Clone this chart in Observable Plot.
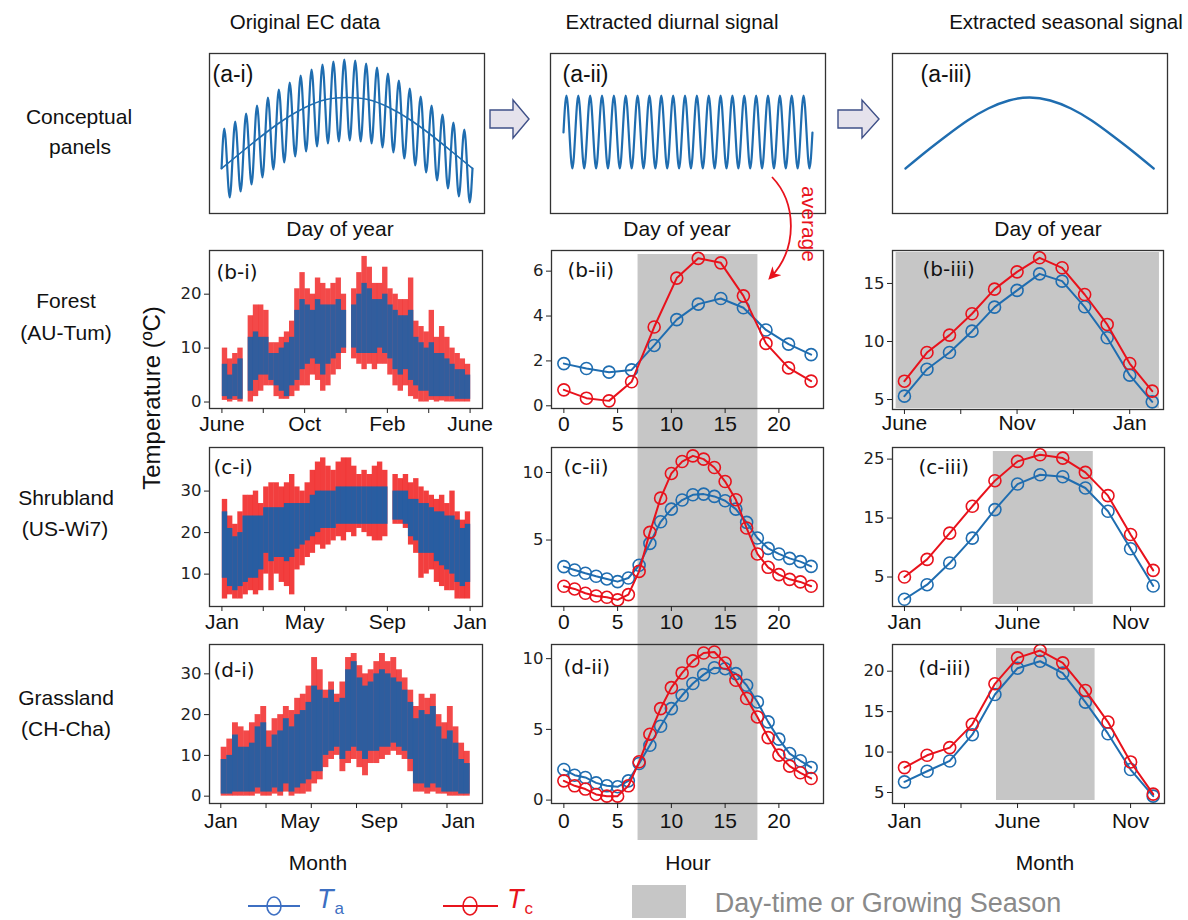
<!DOCTYPE html>
<html><head><meta charset="utf-8">
<script src="https://cdn.jsdelivr.net/npm/d3@7"></script>
<script src="https://cdn.jsdelivr.net/npm/@observablehq/plot@0.6"></script>
<style>
body{margin:0;background:#fff;}
#root{position:relative;width:1188px;height:920px;overflow:hidden;background:#fff;font-family:"Liberation Sans",Arial,sans-serif;color:#111;}
.lbl{position:absolute;white-space:nowrap;transform:translate(-50%,-50%);line-height:1;}
</style></head><body><div id="root"></div>
<script>
// ---------------- DATA ----------------
// Conceptual panels (values in panel units)
const conceptPeaks   = [85, 92, 100, 108, 116, 124, 131, 138, 144, 149, 152, 154, 153, 150, 146, 140, 133, 125, 117, 108, 99, 91, 84];
const conceptTroughs = [16, 22, 29, 36, 44, 51, 57, 62, 67, 70, 72, 73, 72, 70, 66, 61, 55, 48, 41, 33, 25, 17, 11];
const conceptStartEnd = [45, 45];
const conceptMeanX = [0.5, 4.3, 8.2, 12, 15.8, 19.7, 23.5, 27.3, 31.2, 35, 38.8, 42.7, 46.5];
const conceptMeanY = [45, 62, 79, 94, 106, 114, 116, 114, 106, 94, 79, 62, 45];
const diurnalConceptPeaks   = [118,118,118,118,118,118,118,118,118,118,118,118,118,118,118,118,118,118,118,118,118];
const diurnalConceptTroughs = [45,45,45,45,45,45,45,45,45,45,45,45,45,45,45,45,45,45,45,45,45];
const diurnalConceptStartEnd = [81, 81];
const seasonalConceptY = [45, 62, 78, 93, 105, 113, 116, 113, 105, 93, 78, 62, 45];

// Scatter panels: weekly envelopes (°C) of Tc (red) and Ta (blue); null = data gap
const forestTcLo = [0.3,0,0.3,0,null,0,1,2,3,3,1,0.5,0.5,1,2,3,3,5,4,2,3,5,6,9,null,8,7,6,7,6,7,7,5,3,2,3,1,0.5,0,0,0.3,0,0.2,0,0,0,0,0];
const forestTcHi = [10,8,9,10,null,16,18,18,17,11,11,12,13,15,21,24,21,20,23,22,21,22,23,20,null,21,24,27,25,22,22,25,21,20,19,19,23,15,14,13,17,12,14,12,10,9,8,7];
const forestTaLo = [1,0.5,1,0.5,null,2,4,5,5,4,3,2,1,3,4,6,7,8,7,5,7,8,9,10,null,10,9,9,9,9,10,9,8,6,5,6,4,3,2,2,1,1,1,1,1,0.5,0.5,0.5];
const forestTaHi = [7,5,7,8,null,12,13,12,12,9,9,10,11,12,17,19,18,17,19,18,18,18,19,17,null,18,20,22,21,19,19,20,18,17,16,16,17,12,11,10,11,9,9,8,7,6,6,5];

const shrubTcLo = [4,5,4,4,5,6,5,6,10,6,10,8,7,5,11,12,14,15,17,16,17,18,19,18,20,19,21,20,19,18,18,19,null,22,22,21,17,15,9,10,11,8,7,6,6,4,4,4];
const shrubTcHi = [28,24,22,25,29,29,30,27,31,32,32,31,32,34,31,30,32,35,37,38,36,35,37,38,38,36,34,35,34,36,37,35,null,34,33,34,32,33,31,30,29,28,29,27,30,25,23,25];
const shrubTaLo = [9,7,6,7,8,9,9,11,15,13,14,14,13,14,16,17,18,19,20,21,21,21,22,22,22,22,22,22,22,22,22,22,null,23,23,22,19,18,15,15,15,13,12,11,10,8,7,8];
const shrubTaHi = [25,21,19,20,24,24,24,24,26,26,26,26,27,27,27,27,27,29,30,30,30,30,31,31,31,31,31,31,31,31,31,31,null,30,30,30,28,28,27,27,26,25,25,24,24,23,21,22];

const grassTcLo = [0,0,0,0,0,0,0.5,0,0,0.5,0,1,0,0.5,0.5,1,3,4,7,9,10,6,8,9,7,5,8,8,9,10,11,10,9,6,1,1,0.5,1,0.5,0.5,0,0,0,0];
const grassTcHi = [12,14,18,17,16,18,20,22,16,19,20,22,21,24,25,27,34,31,26,28,25,28,34,35,32,30,31,33,35,33,34,31,29,26,22,25,24,25,20,18,22,17,13,11];
const grassTaLo = [0.5,0.5,1,1,1,1,2,1,1,2,1,3,1,2,3,4,6,6,10,11,12,9,11,12,11,9,11,11,12,12,13,12,11,9,3,3,2,3,2,1,1,1,0.5,0.5];
const grassTaHi = [9,10,15,12,12,13,17,18,12,15,16,19,17,20,21,23,27,26,24,26,23,24,31,33,29,27,28,30,31,30,29,28,26,23,19,21,20,22,17,14,16,13,9,8];

// Diurnal signal (°C)
const hoursForest = [0, 2.1, 4.2, 6.3, 8.4, 10.5, 12.5, 14.6, 16.7, 18.8, 20.9, 23];
const forestDiurnalTa = [1.88,1.66,1.50,1.60,2.69,3.84,4.53,4.78,4.37,3.38,2.75,2.28];
const forestDiurnalTc = [0.71,0.34,0.22,1.07,3.51,5.69,6.57,6.37,4.90,2.78,1.69,1.10];
const hours = [0,1,2,3,4,5,6,7,8,9,10,11,12,13,14,15,16,17,18,19,20,21,22,23];
const shrubDiurnalTa = [3.03,2.78,2.54,2.32,2.12,1.92,2.19,3.13,4.75,6.35,7.29,7.96,8.35,8.40,8.23,7.91,7.29,6.31,5.15,4.38,3.97,3.64,3.40,3.05];
const shrubDiurnalTc = [1.58,1.38,1.06,0.86,0.76,0.57,0.96,2.68,5.57,8.10,9.93,10.81,11.23,10.99,10.37,9.33,7.98,5.89,3.97,2.98,2.44,2.09,1.90,1.58];
const grassDiurnalTa = [2.16,1.76,1.60,1.22,1.01,0.94,1.36,2.59,3.88,5.22,6.47,7.41,8.24,8.87,9.36,9.29,8.94,8.12,6.94,5.53,4.31,3.29,2.78,2.31];
const grassDiurnalTc = [1.36,1.01,0.78,0.40,0.28,0.28,1.01,2.71,4.66,6.47,7.95,8.99,9.84,10.40,10.47,9.69,8.47,7.18,5.88,4.42,3.18,2.40,1.93,1.53];
const daytimeHours = [6.9, 18.05];

// Seasonal signal (°C), monthly index 0..11
const monthIndex = [0,1,2,3,4,5,6,7,8,9,10,11];
const forestSeasonTa = [5.29,7.61,9.05,10.89,12.96,14.40,15.83,15.20,12.99,10.32,7.10,4.80];
const forestSeasonTc = [6.58,9.05,10.55,12.39,14.51,16.00,17.21,16.35,14.05,11.47,8.10,5.72];
const shrubSeasonTa = [1.23,3.70,7.37,11.59,16.44,20.77,22.35,22.01,20.10,16.15,9.79,3.48];
const shrubSeasonTc = [5.00,7.99,12.44,17.00,21.34,24.61,25.73,25.17,22.75,18.80,12.21,6.13];
const grassSeasonTa = [6.32,7.63,8.90,12.15,17.12,20.37,21.23,19.76,16.18,12.27,7.84,4.55];
const grassSeasonTc = [8.08,9.60,10.55,13.43,18.44,21.65,22.55,21.03,17.62,13.71,8.78,4.80];
const forestSeason = [-0.37, 11.32];
const shrubSeason = [3.93, 8.35];
const grassSeason = [4.07, 8.43];

// Tick labels
const forestMonthTicks = ["June", "Oct", "Feb", "June"];
const yearMonthTicks = ["Jan", "May", "Sep", "Jan"];
const hourTicks = ["0", "5", "10", "15", "20"];
const forestSeasonTicks = ["June", "Nov", "Jan"];
const otherSeasonTicks = ["Jan", "June", "Nov"];

// ---------------- DRAWING ----------------
const root = document.getElementById("root");
const BLUE = "#1f6db0", RED = "#e8121c", GRAY = "#c6c6c6";
const SC_BLUE = "#1d5fa6", SC_RED = "#f01c1c";

function makePanel({frame, x, y, marks}) {
  const [x0, y0, x1, y1] = frame;
  const ml = 70, mr = 30, mt = 20, mb = 60;
  const svg = Plot.plot({
    width: x1 - x0 + ml + mr, height: y1 - y0 + mt + mb,
    marginLeft: ml, marginRight: mr, marginTop: mt, marginBottom: mb,
    x: {domain: x, axis: null}, y: {domain: y, axis: null},
    style: {background: "transparent", overflow: "visible", fontFamily: "DejaVu Sans", fontSize: "16px", color: "#222"},
    marks
  });
  Object.assign(svg.style, {position: "absolute", left: (x0 - ml) + "px", top: (y0 - mt) + "px"});
  root.appendChild(svg);
}
const frameMark = () => Plot.frame({stroke: "#333", strokeWidth: 1.3});
const yAxis = (ticks) => Plot.axisY({ticks, tickSize: 5, tickPadding: 3, label: null, fontSize: 16.5, fontFamily: "DejaVu Sans", color: "#222", tickFormat: d => String(d)});
const xTicks = (ticks) => Plot.axisX({ticks, tickSize: 5, tickFormat: () => "", label: null, color: "#222"});
const xLabels = (vals, texts, dy = 22) => Plot.text(vals.map((v, i) => ({v, t: texts[i]})), {x: "v", text: "t", frameAnchor: "bottom", dy, fontSize: 21, fontFamily: "Liberation Sans", fill: "#111"});
const tag = (t, dx, dy, font = "DejaVu Sans", size = 20) => Plot.text([t], {text: d => d, frameAnchor: "top-left", dx, dy, textAnchor: "start", lineAnchor: "middle", fontSize: size, fontFamily: font, fill: "#111"});
function series(xs, ys, color) {
  const d = xs.map((xv, i) => ({x: xv, y: ys[i]}));
  return [Plot.line(d, {x: "x", y: "y", stroke: color, strokeWidth: 2}),
          Plot.dot(d, {x: "x", y: "y", r: 6, stroke: color, strokeWidth: 1.6, fill: "none"})];
}
function scatter(lo, hi, color, opacity, width) {
  const d = lo.map((l, i) => ({x: (i + 0.5) / 4, lo: l, hi: hi[i]})).filter(d => d.lo != null);
  return Plot.ruleX(d, {x: "x", y1: "lo", y2: "hi", stroke: color, strokeOpacity: opacity, strokeWidth: width});
}
function alternate(startEnd, peaks, troughs) {
  const pts = [{x: 0.5, y: startEnd[0]}];
  peaks.forEach((p, i) => { pts.push({x: 2 * i + 1, y: p}); pts.push({x: 2 * i + 2, y: troughs[i]}); });
  pts.push({x: 2 * peaks.length + 0.5, y: startEnd[1]});
  return pts;
}
const band = (range, yDom, insetTop, insetBottom) =>
  Plot.rect([range], {x1: d => d[0], x2: d => d[1], y1: () => yDom[0], y2: () => yDom[1], fill: GRAY, insetTop, insetBottom});

// --- Row a: conceptual panels
const aY = [0, 160];
makePanel({frame: [209, 53, 484, 213], x: [-1.71, 48.7], y: aY, marks: [
  Plot.line(alternate(conceptStartEnd, conceptPeaks, conceptTroughs), {x: "x", y: "y", curve: "monotone-x", stroke: BLUE, strokeWidth: 2.2}),
  Plot.line(conceptMeanX.map((xv, i) => ({x: xv, y: conceptMeanY[i]})), {x: "x", y: "y", curve: "natural", stroke: BLUE, strokeWidth: 1.6}),
  frameMark(), tag("(a-i)", 3, 21, "Liberation Sans", 23)
]});
makePanel({frame: [550, 53, 825, 213], x: [-1.69, 44.7], y: aY, marks: [
  Plot.line(alternate(diurnalConceptStartEnd, diurnalConceptPeaks, diurnalConceptTroughs), {x: "x", y: "y", curve: "monotone-x", stroke: BLUE, strokeWidth: 2.2}),
  frameMark(), tag("(a-ii)", 12, 21, "Liberation Sans", 23)
]});
makePanel({frame: [892, 53, 1167, 213], x: [-0.63, 12.67], y: aY, marks: [
  Plot.line(seasonalConceptY.map((v, i) => ({x: i, y: v})), {x: "x", y: "y", curve: "natural", stroke: BLUE, strokeWidth: 2.4}),
  frameMark(), tag("(a-iii)", 28, 21, "Liberation Sans", 23)
]});

// --- Column i: scatter
const monthTicks12 = [0, 2, 4, 6, 8, 10, 12];
makePanel({frame: [209, 250, 482, 408], x: [-0.6, 12.6], y: [-1.2, 28.1], marks: [
  scatter(forestTcLo, forestTcHi, SC_RED, 0.8, 5.4),
  scatter(forestTaLo, forestTaHi, SC_BLUE, 0.9, 5.4),
  frameMark(), yAxis([0, 10, 20]), xTicks(monthTicks12), xLabels([0, 4, 8, 12], forestMonthTicks),
  tag("(b-i)", 7, 22)
]});
makePanel({frame: [209, 447, 482, 606], x: [-0.6, 12.6], y: [2.2, 40.5], marks: [
  scatter(shrubTcLo, shrubTcHi, SC_RED, 0.85, 5.4),
  scatter(shrubTaLo, shrubTaHi, SC_BLUE, 0.95, 5.4),
  frameMark(), yAxis([10, 20, 30]), xTicks(monthTicks12), xLabels([0, 4, 8, 12], yearMonthTicks),
  tag("(c-i)", 4, 20)
]});
makePanel({frame: [209, 644, 482, 803], x: [-0.5, 11.57], y: [-1.8, 37.2], marks: [
  scatter(grassTcLo, grassTcHi, SC_RED, 0.8, 5.9),
  scatter(grassTaLo, grassTaHi, SC_BLUE, 0.92, 5.9),
  frameMark(), yAxis([0, 10, 20, 30]), xTicks([0, 2, 4, 6, 8, 10]), xLabels([0, 3.5, 7, 10.5], yearMonthTicks, 24),
  tag("(d-i)", 4, 26)
]});

// --- Column ii: diurnal
const hx = [-1.15, 24.15];
const hourTickVals = [0, 5, 10, 15, 20];
const yB2 = [-0.12, 6.92], yC2 = [0.08, 11.85], yD2 = [-0.24, 11.0];
makePanel({frame: [551, 250, 823, 408], x: hx, y: yB2, marks: [
  band(daytimeHours, yB2, 4, -39),
  ...series(hoursForest, forestDiurnalTa, BLUE), ...series(hoursForest, forestDiurnalTc, RED),
  frameMark(), yAxis([0, 2, 4, 6]), xTicks(hourTickVals), xLabels(hourTickVals, hourTicks),
  tag("(b-ii)", 16, 20)
]});
makePanel({frame: [551, 447, 823, 606], x: hx, y: yC2, marks: [
  band(daytimeHours, yC2, 0, -38),
  ...series(hours, shrubDiurnalTa, BLUE), ...series(hours, shrubDiurnalTc, RED),
  frameMark(), yAxis([5, 10]), xTicks(hourTickVals), xLabels(hourTickVals, hourTicks),
  tag("(c-ii)", 12, 20)
]});
makePanel({frame: [551, 644, 823, 803], x: hx, y: yD2, marks: [
  band(daytimeHours, yD2, 0, -37),
  ...series(hours, grassDiurnalTa, BLUE), ...series(hours, grassDiurnalTc, RED),
  frameMark(), yAxis([0, 5, 10]), xTicks(hourTickVals), xLabels(hourTickVals, hourTicks, 24),
  tag("(d-ii)", 12, 23)
]});

// --- Column iii: seasonal
const mx = [-0.53, 11.5];
const seasonTickVals = [0, 2.5, 5, 7.5, 10];
const yB3 = [4.14, 17.84], yC3 = [0.0, 26.97], yD3 = [3.64, 23.3];
makePanel({frame: [892, 250, 1163, 409], x: mx, y: yB3, marks: [
  band(forestSeason, yB3, 2, 1),
  ...series(monthIndex, forestSeasonTa, BLUE), ...series(monthIndex, forestSeasonTc, RED),
  frameMark(), yAxis([5, 10, 15]), xTicks(seasonTickVals), xLabels([0, 5, 10], forestSeasonTicks, 20),
  tag("(b-iii)", 30, 19)
]});
makePanel({frame: [892, 447, 1164, 606], x: mx, y: yC3, marks: [
  band(shrubSeason, yC3, 4, 2),
  ...series(monthIndex, shrubSeasonTa, BLUE), ...series(monthIndex, shrubSeasonTc, RED),
  frameMark(), yAxis([5, 15, 25]), xTicks(seasonTickVals), xLabels([0, 5, 10], otherSeasonTicks),
  tag("(c-iii)", 26, 20)
]});
makePanel({frame: [892, 644, 1164, 803], x: mx, y: yD3, marks: [
  band(grassSeason, yD3, 4, 3),
  ...series(monthIndex, grassSeasonTa, BLUE), ...series(monthIndex, grassSeasonTc, RED),
  frameMark(), yAxis([5, 10, 15, 20]), xTicks(seasonTickVals), xLabels([0, 5, 10], otherSeasonTicks, 24),
  tag("(d-iii)", 26, 24)
]});

// ---------------- TEXT ----------------
function label(text, x, y, size, extra = {}) {
  const d = document.createElement("div");
  d.className = "lbl";
  d.textContent = text;
  Object.assign(d.style, {left: x + "px", top: y + "px", fontSize: size + "px"}, extra);
  root.appendChild(d);
  return d;
}
label("Original EC data", 305, 22, 20.5);
label("Extracted diurnal signal", 672, 22, 20.5);
label("Extracted seasonal signal", 1066, 22, 20.5);
[["Conceptual", 79, 116], ["panels", 80, 146], ["Forest", 66, 300], ["(AU-Tum)", 66, 332],
 ["Shrubland", 66, 497], ["(US-Wi7)", 65, 528], ["Grassland", 66, 697], ["(CH-Cha)", 66, 728]]
  .forEach(([t, x, y]) => label(t, x, y, 21));
label("Day of year", 340, 228, 21);
label("Day of year", 677, 228, 21);
label("Day of year", 1048, 228, 21);
label("Month", 318, 862, 21);
label("Hour", 688, 862, 21);
label("Month", 1045, 862, 21);
label("Temperature (ºC)", 152, 398, 24, {transform: "translate(-50%,-50%) rotate(-90deg)"});
label("average", 809, 224, 21, {transform: "translate(-50%,-50%) rotate(90deg)", color: RED});
label("Day-time or Growing Season", 888, 903, 27, {color: "#8a8a8a"});

function legendT(sub, x, color) {
  const d = document.createElement("div");
  Object.assign(d.style, {position: "absolute", left: x + "px", top: "886px", color, fontFamily: "Liberation Sans", lineHeight: "1", whiteSpace: "nowrap"});
  d.innerHTML = `<span style="font-style:italic;font-size:27px">T</span><span style="font-size:17px;position:relative;top:6px;left:1px">${sub}</span>`;
  root.appendChild(d);
}
legendT("a", 317, "#3d6fc2");
legendT("c", 507, "#e8141c");

// ---------------- OVERLAY GRAPHICS ----------------
const ns = "http://www.w3.org/2000/svg";
const ov = document.createElementNS(ns, "svg");
ov.setAttribute("width", 1188); ov.setAttribute("height", 920);
Object.assign(ov.style, {position: "absolute", left: "0px", top: "0px", pointerEvents: "none"});
ov.innerHTML = `
<defs><marker id="ah" viewBox="0 0 10 10" refX="8" refY="5" markerWidth="7" markerHeight="7" orient="auto-start-reverse">
<path d="M0,0 L10,5 L0,10 L3,5 z" fill="${RED}"/></marker></defs>
<polygon points="490,110 513,110 513,100 529,119 513,138 513,128 490,128" fill="#e5e2ec" stroke="#3f5088" stroke-width="1.4"/>
<polygon points="838,110 862,110 862,100 879,119 862,138 862,128 838,128" fill="#e5e2ec" stroke="#3f5088" stroke-width="1.4"/>
<path d="M772,177 C796,202 799,248 770,278" fill="none" stroke="${RED}" stroke-width="1.8" marker-end="url(#ah)"/>
<line x1="248" y1="906" x2="300" y2="906" stroke="#3d6fc2" stroke-width="2"/>
<ellipse cx="274" cy="906" rx="7" ry="9" fill="none" stroke="#3d6fc2" stroke-width="1.6"/>
<line x1="443" y1="906" x2="498" y2="906" stroke="#e8141c" stroke-width="2"/>
<ellipse cx="470" cy="906" rx="7" ry="9" fill="none" stroke="#e8141c" stroke-width="1.6"/>
<rect x="632" y="885" width="54" height="33" fill="${GRAY}"/>
`;
root.appendChild(ov);
</script></body></html>
